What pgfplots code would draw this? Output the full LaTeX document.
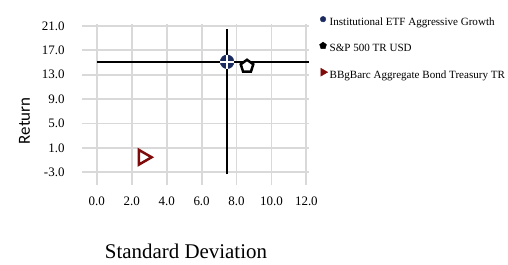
\documentclass[border=0pt]{standalone}
\usepackage{fontspec}
\setmainfont{Liberation Serif}
\newfontfamily\carlito{Carlito}
\usepackage{pgfplots}
\pgfplotsset{compat=1.18}
\usetikzlibrary{plotmarks}
\definecolor{navy}{HTML}{1B2B5E}
\definecolor{dred}{HTML}{7F0A0A}
\definecolor{gridc}{HTML}{D9D9D9}
\begin{document}
\begin{tikzpicture}
\useasboundingbox (-82bp,-80bp) rectangle (426bp,185bp);
\begin{axis}[at={(0,0)}, anchor=south west, scale only axis,
  width=227bp, height=161bp,
  xmin=-0.85, xmax=12.15, ymin=-5.1, ymax=21.3,
  xtick={0,2,...,12}, ytick={-3,1,...,21},
  grid=major, major grid style={gridc, line width=1.8bp},
  axis line style={draw=none}, major tick length=0pt,
  tick label style={font=\fontsize{13}{15}\selectfont},
  /pgf/number format/.cd, fixed, fixed zerofill, precision=1, assume math mode=true, /pgfplots/.cd,
  yticklabel style={xshift=-14bp},
  xticklabel style={yshift=-8bp},
  xlabel={Standard Deviation},
  xlabel style={at={(axis description cs:0.458,-0.455)}, anchor=base, font=\fontsize{21}{24}\selectfont},
  ylabel={\carlito Return},
  ylabel style={at={(axis description cs:-0.253,0.398)}, anchor=center, rotate=0, font=\fontsize{17}{20}\selectfont},
  legend style={at={(axis description cs:1.046,1.056)}, anchor=north west, draw=none, fill=none,
    font=\fontsize{11.1}{13}\selectfont, row sep=11.5bp, inner sep=0pt,
    nodes={inner sep=2bp, text height=8bp, text depth=3bp}},
  legend cell align=left,
  legend image code/.code={\draw[#1] plot coordinates {(0bp,3.5bp)};},
]
\addlegendimage{only marks, mark=*, mark size=2.8bp, navy}
\addlegendentry{Institutional ETF Aggressive Growth}
\addlegendimage{only marks, mark=pentagon*, mark size=3.6bp, black}
\addlegendentry{S\&P 500 TR USD}
\addlegendimage{only marks, mark=triangle*, mark size=4.6bp, dred, mark options={rotate=-90}}
\addlegendentry{BBgBarc Aggregate Bond Treasury TR}

\addplot[black, line width=1.5bp, forget plot] coordinates {(0,15.1) (12.15,15.1)};
\addplot[black, line width=1.5bp, forget plot] coordinates {(7.46,-3.3) (7.46,20.4)};
\addplot[only marks, mark=pentagon*, mark size=6.6bp, mark options={draw=black, fill=white, line width=2.5bp}, forget plot] coordinates {(8.6,14.35)};
\addplot[only marks, mark=triangle*, mark size=8.5bp, mark options={draw=dred, fill=white, line width=2.5bp, rotate=-90}, forget plot] coordinates {(2.65,-0.55)};
\addplot[only marks, mark=*, mark size=6.9bp, mark options={draw=navy, fill=navy}, forget plot] coordinates {(7.46,15.1)};
\addplot[only marks, mark=+, mark size=6.9bp, mark options={draw=white, line width=1.4bp}, forget plot] coordinates {(7.46,15.1)};
\end{axis}
\end{tikzpicture}
\end{document}
